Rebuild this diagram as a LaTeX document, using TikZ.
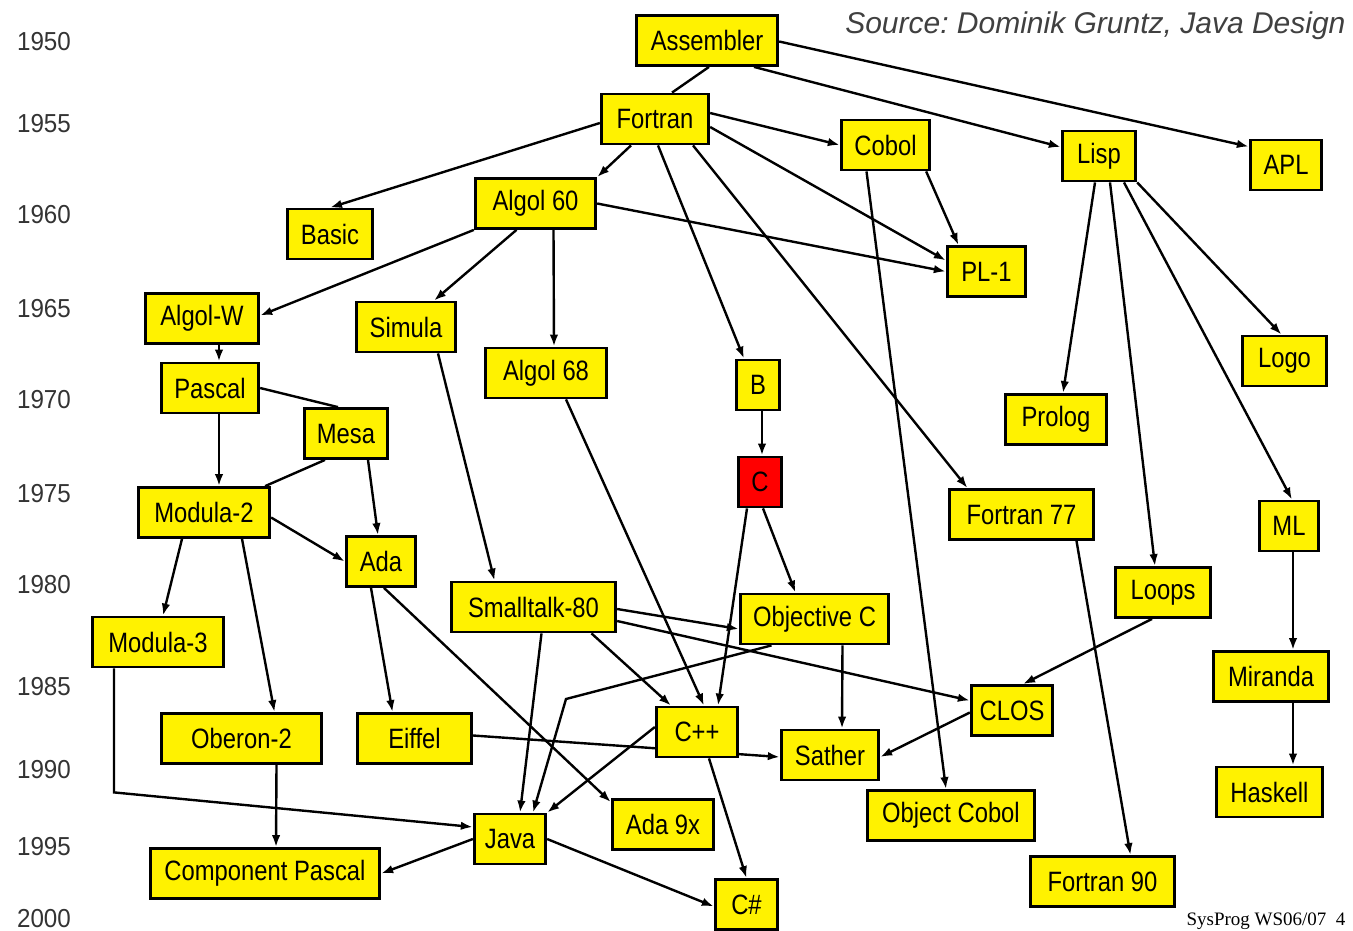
\documentclass[tikz,border=0pt]{standalone}
\usepackage{fontspec}
\setmainfont{Liberation Serif}
\setsansfont{Liberation Sans}
\newfontfamily\langfont{Liberation Sans}[FakeStretch=0.85]
\newfontfamily\yearfont{Liberation Sans}[FakeStretch=0.93]
\usetikzlibrary{arrows.meta,backgrounds}

\begin{document}
\begin{tikzpicture}
  [x=1pt, y=-1pt,
   >={Latex[length=12pt,width=8.5pt]},
   lang/.style={draw=black, line width=2.8pt, fill=yellow, minimum height=50, inner sep=0pt,
                text=black, font=\langfont\fontsize{28}{32}\selectfont},
   infl/.style={->, line width=2.4pt},
   year/.style={anchor=base, text=black!80, font=\yearfont\fontsize{26}{30}\selectfont}]
  \useasboundingbox (0,0) rectangle (1353,930);

  \foreach \yr/\yb in {1950/50, 1955/132, 1960/223, 1965/317, 1970/408, 1975/502,
                       1980/593, 1985/695, 1990/778, 1995/855, 2000/927}
    \node[year] (y\yr) at (44,\yb) {\yr};

  \node[anchor=base east, text=black!75, font=\sffamily\itshape\fontsize{30}{34}\selectfont]
    (source) at (1349,33) {\frenchspacing Source: Dominik Gruntz, Java Design};
  \node[anchor=base east, font=\rmfamily\fontsize{19}{22}\selectfont]
    (slide) at (1349,925) {SysProg WS06/07\ \ 4};

  \node[lang, minimum width=141.5] (asm) at (707,40.5) {Assembler};
  \node[lang, minimum width=107.5] (fortran) at (655,119) {Fortran};
  \node[lang, minimum width=88.5] (cobol) at (885.5,145) {Cobol};
  \node[lang, minimum width=73.5] (lisp) at (1099,156) {Lisp};
  \node[lang, minimum width=71.5] (apl) at (1286,165) {APL};
  \node[lang, minimum width=85.5] (basic) at (330,234) {Basic};
  \node[lang, minimum width=120.5] (algolsixty) at (535.5,203.5) {Algol 60};
  \node[lang, minimum width=78.5] (plone) at (986.5,271.5) {PL-1};
  \node[lang, minimum width=113.5] (algolw) at (202,318.5) {Algol-W};
  \node[lang, minimum width=99.5] (simula) at (406,327) {Simula};
  \node[lang, minimum width=121.5] (algolsixtyeight) at (546,373) {Algol 68};
  \node[lang, minimum width=43.5] (b) at (758,385) {B};
  \node[lang, minimum width=84.5] (logo) at (1284.5,361) {Logo};
  \node[lang, minimum width=97.5] (pascal) at (210,388) {Pascal};
  \node[lang, minimum width=83.5] (mesa) at (346,433.5) {Mesa};
  \node[lang, minimum width=101.5] (prolog) at (1056,419.5) {Prolog};
  \node[lang, minimum width=43.5, fill=red] (c) at (760,482) {C};
  \node[lang, minimum width=131.5] (modulatwo) at (204,512.5) {Modula-2};
  \node[lang, minimum width=144.5] (fortranss) at (1021.5,514.5) {Fortran 77};
  \node[lang, minimum width=59.5] (ml) at (1289,526) {ML};
  \node[lang, minimum width=69.5] (ada) at (381,561.5) {Ada};
  \node[lang, minimum width=164.5] (smalltalk) at (533.5,607) {Smalltalk-80};
  \node[lang, minimum width=95.5] (loops) at (1163,592.5) {Loops};
  \node[lang, minimum width=148.5] (objc) at (814.5,619) {Objective C};
  \node[lang, minimum width=131.5] (modulathree) at (158,642) {Modula-3};
  \node[lang, minimum width=115.5] (miranda) at (1271,676.5) {Miranda};
  \node[lang, minimum width=81.5] (clos) at (1012,710.5) {CLOS};
  \node[lang, minimum width=81.5] (cpp) at (697,732) {C++};
  \node[lang, minimum width=160.5] (oberon) at (241.5,738.5) {Oberon-2};
  \node[lang, minimum width=114.5] (eiffel) at (414.5,738.5) {Eiffel};
  \node[lang, minimum width=97.5] (sather) at (830,755) {Sather};
  \node[lang, minimum width=106.5] (haskell) at (1269.5,792) {Haskell};
  \node[lang, minimum width=167.5] (objcobol) at (951,815.5) {Object Cobol};
  \node[lang, minimum width=101.5] (adanine) at (663,824.5) {Ada 9x};
  \node[lang, minimum width=71.5] (java) at (510,839) {Java};
  \node[lang, minimum width=229.5] (comppascal) at (265,873.5) {Component Pascal};
  \node[lang, minimum width=144.5] (fortranninety) at (1102.5,881.5) {Fortran 90};
  \node[lang, minimum width=62.5] (csharp) at (746.5,904.5) {C\#};

  \begin{scope}[on background layer]
    \fill[white] (0,0) rectangle (1353,930);
    \draw[line width=2.4pt] ([xshift=2]asm.south) -- ([xshift=17]fortran.north);
    \draw[infl] ([xshift=47]asm.south) -- ([yshift=9]lisp.west);
    \draw[infl] ([yshift=-1]asm.east) -- ([yshift=-8]apl.north west);
    \draw[infl] ([yshift=-4]fortran.west) -- (basic.north);
    \draw[infl] ([xshift=-24]fortran.south) -- (algolsixty.north east);
    \draw[infl] ([yshift=6]fortran.east) -- (cobol.west);
    \draw[infl] ([yshift=-8]fortran.east) -- ([yshift=11]plone.west);
    \draw[infl] ([xshift=3]fortran.south) -- ([xshift=-14]b.north);
    \draw[infl] ([xshift=38]fortran.south) -- ([xshift=-54]fortranss.north);
    \draw[infl] ([xshift=-5]cobol.south east) -- ([xshift=-28]plone.north);
    \draw[infl] ([xshift=-19]cobol.south) -- ([xshift=-5]objcobol.north);
    \draw[infl] (algolsixty.east) -- (plone.west);
    \draw[infl] (algolsixty.south west) -- ([yshift=3]algolw.east);
    \draw[infl] ([xshift=-19]algolsixty.south) -- ([xshift=28]simula.north);
    \draw[infl] ([xshift=18]algolsixty.south) -- ([xshift=8]algolsixtyeight.north);
    \draw[infl] ([xshift=17]algolw.south) -- ([xshift=9]pascal.north);
    \draw[line width=2.4pt] (pascal.east) -- ([xshift=-8]mesa.north);
    \draw[infl] ([xshift=9]pascal.south) -- ([xshift=15]modulatwo.north);
    \draw[line width=2.4pt] ([xshift=-21]mesa.south) -- ([xshift=-6]modulatwo.north east);
    \draw[infl] ([xshift=22]mesa.south) -- ([xshift=-3]ada.north);
    \draw[infl] ([xshift=32]simula.south) -- ([xshift=-39]smalltalk.north);
    \draw[infl] ([xshift=20]algolsixtyeight.south) -- ([xshift=7]cpp.north);
    \draw[infl] ([xshift=4]b.south) -- ([xshift=2]c.north);
    \draw[infl] ([xshift=-13]c.south) -- ([xshift=21]cpp.north);
    \draw[infl] ([xshift=3]c.south) -- ([xshift=-19]objc.north);
    \draw[infl] ([xshift=-4]lisp.south) -- ([xshift=7]prolog.north);
    \draw[infl] ([xshift=11]lisp.south) -- ([xshift=-8]loops.north);
    \draw[infl] ([xshift=25]lisp.south) -- ([xshift=3]ml.north);
    \draw[infl] (lisp.south east) -- ([xshift=-3]logo.north);
    \draw[infl] ([yshift=-5]modulatwo.east) -- (ada.west);
    \draw[infl] ([xshift=-22]modulatwo.south) -- ([xshift=5]modulathree.north);
    \draw[infl] ([xshift=38]modulatwo.south) -- ([xshift=33]oberon.north);
    \draw[infl] ([xshift=-44]modulathree.south) -- ++(0,124) -- ([yshift=12]java.west);
    \draw[infl] ([xshift=35]oberon.south) -- ([xshift=11]comppascal.north);
    \draw[infl] ([xshift=-10]ada.south) -- ([xshift=-22]eiffel.north);
    \draw[infl] ([xshift=3]ada.south) -- ([yshift=-4]adanine.north west);
    \draw[infl] ([yshift=3]eiffel.east) -- ([yshift=-2]sather.west);
    \draw[infl] ([yshift=-2]smalltalk.east) -- ([yshift=-10]objc.west);
    \draw[infl] ([yshift=-14]smalltalk.east) -- ([yshift=10]clos.west);
    \draw[infl] ([xshift=58]smalltalk.south) -- ([xshift=-26]cpp.north);
    \draw[infl] ([xshift=8]smalltalk.south) -- ([xshift=10]java.north);
    \draw[infl] ([xshift=-43]objc.south) -- (566,699) -- ([xshift=23]java.north);
    \draw[infl] ([xshift=28]objc.south) -- ([xshift=12]sather.north);
    \draw[infl] ([yshift=5]cpp.west) -- (java.north east);
    \draw[infl] ([xshift=12]cpp.south) -- (csharp.north);
    \draw[infl] (java.west) -- (comppascal.east);
    \draw[infl] (java.east) -- ([yshift=-2]csharp.west);
    \draw[infl] ([yshift=-2]clos.west) -- ([yshift=-2]sather.east);
    \draw[infl] ([xshift=-11]loops.south) -- ([xshift=11]clos.north);
    \draw[infl] ([xshift=4]ml.south) -- ([xshift=22]miranda.north);
    \draw[infl] ([xshift=22]miranda.south) -- ([xshift=23.5]haskell.north);
    \draw[infl] ([xshift=55]fortranss.south) -- ([xshift=28]fortranninety.north);
  \end{scope}
\end{tikzpicture}
\end{document}
